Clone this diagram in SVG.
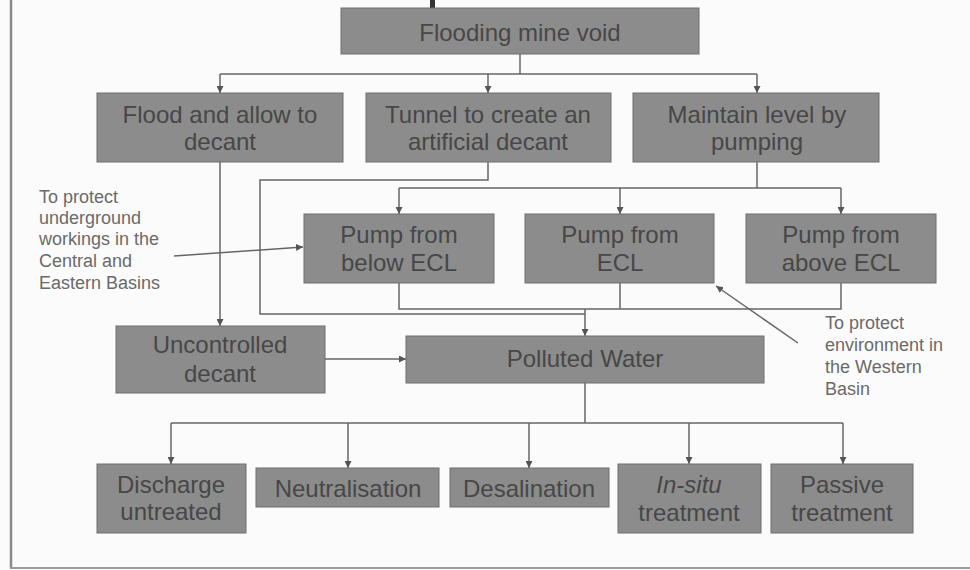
<svg xmlns="http://www.w3.org/2000/svg" width="970" height="570" viewBox="0 0 970 570">
<defs>
<marker id="ah" viewBox="0 0 10 10" refX="10" refY="5" markerWidth="7" markerHeight="7" markerUnits="userSpaceOnUse" orient="auto">
<path d="M0,0 L10,5 L0,10 z" fill="#555"/>
</marker>
</defs>
<style>
.box{fill:#8c8c8c;stroke:#6e6e6e;stroke-width:1}
.t{font-family:"Liberation Sans",Arial,sans-serif;font-size:24px;fill:#474747;text-anchor:middle}
.a{font-family:"Liberation Sans",Arial,sans-serif;font-size:18px;fill:#6a6a6a}
.c{fill:none;stroke:#666;stroke-width:1.5}
.ca{fill:none;stroke:#666;stroke-width:1.5;marker-end:url(#ah)}
</style>
<rect x="0" y="0" width="970" height="570" fill="#fbfbfb"/>
<g id="frame">
<line x1="11" y1="0" x2="11" y2="568" stroke="#8a8a8a" stroke-width="2.5"/>
<line x1="10" y1="568" x2="970" y2="568" stroke="#9a9a9a" stroke-width="2"/>
<rect x="430" y="0" width="5" height="8" fill="#333"/>
</g>
<g id="connectors">
<path class="c" d="M520,54 V74"/>
<path class="c" d="M220,74 H757"/>
<path class="ca" d="M220,74 V93"/>
<path class="ca" d="M488,74 V93"/>
<path class="ca" d="M757,74 V93"/>
<path class="ca" d="M220,162 V326"/>
<path class="c" d="M488,162 V180 H260 V314 H585"/>
<path class="c" d="M757,162 V188"/>
<path class="c" d="M399,188 H841"/>
<path class="ca" d="M399,188 V214"/>
<path class="ca" d="M620,188 V214"/>
<path class="ca" d="M841,188 V214"/>
<path class="c" d="M399,283 V309 H841 V283"/>
<path class="c" d="M620,283 V309"/>
<path class="ca" d="M585,309 V336"/>
<path class="ca" d="M325,359 H406"/>
<path class="c" d="M585,383 V423"/>
<path class="c" d="M171,423 H843"/>
<path class="ca" d="M171,423 V464"/>
<path class="ca" d="M348,423 V468"/>
<path class="ca" d="M529,423 V468"/>
<path class="ca" d="M689,423 V464"/>
<path class="ca" d="M843,423 V464"/>
<path class="ca" d="M174,256 L303,247"/>
<path class="ca" d="M798,343 L716,286"/>
</g>
<g id="n-flooding">
<rect class="box" x="341" y="8" width="358" height="46"/>
<text class="t" x="520" y="41">Flooding mine void</text>
</g>
<g id="n-flood">
<rect class="box" x="97" y="93" width="246" height="69"/>
<text class="t" x="220" y="123">Flood and allow to</text>
<text class="t" x="220" y="150">decant</text>
</g>
<g id="n-tunnel">
<rect class="box" x="366" y="93" width="245" height="69"/>
<text class="t" x="488" y="123">Tunnel to create an</text>
<text class="t" x="488" y="150">artificial decant</text>
</g>
<g id="n-maintain">
<rect class="box" x="633" y="93" width="246" height="69"/>
<text class="t" x="757" y="123">Maintain level by</text>
<text class="t" x="757" y="150">pumping</text>
</g>
<g id="n-below">
<rect class="box" x="304" y="214" width="190" height="69"/>
<text class="t" x="399" y="243">Pump from</text>
<text class="t" x="399" y="271">below ECL</text>
</g>
<g id="n-ecl">
<rect class="box" x="525" y="214" width="189" height="69"/>
<text class="t" x="620" y="243">Pump from</text>
<text class="t" x="620" y="271">ECL</text>
</g>
<g id="n-above">
<rect class="box" x="746" y="214" width="190" height="69"/>
<text class="t" x="841" y="243">Pump from</text>
<text class="t" x="841" y="271">above ECL</text>
</g>
<g id="n-uncontrolled">
<rect class="box" x="116" y="326" width="209" height="67"/>
<text class="t" x="220" y="353">Uncontrolled</text>
<text class="t" x="220" y="382">decant</text>
</g>
<g id="n-polluted">
<rect class="box" x="406" y="336" width="358" height="47"/>
<text class="t" x="585" y="367">Polluted Water</text>
</g>
<g id="n-discharge">
<rect class="box" x="97" y="464" width="149" height="69"/>
<text class="t" x="171" y="493">Discharge</text>
<text class="t" x="171" y="520">untreated</text>
</g>
<g id="n-neutral">
<rect class="box" x="256" y="468" width="183" height="39"/>
<text class="t" x="348" y="497">Neutralisation</text>
</g>
<g id="n-desal">
<rect class="box" x="450" y="468" width="159" height="39"/>
<text class="t" x="529" y="497">Desalination</text>
</g>
<g id="n-insitu">
<rect class="box" x="618" y="464" width="143" height="69"/>
<text class="t" x="689" y="493"><tspan font-style="italic">In-situ</tspan></text>
<text class="t" x="689" y="521">treatment</text>
</g>
<g id="n-passive">
<rect class="box" x="771" y="464" width="142" height="69"/>
<text class="t" x="842" y="493">Passive</text>
<text class="t" x="842" y="521">treatment</text>
</g>
<g id="note-left">
<text class="a" x="39" y="203">To protect</text>
<text class="a" x="39" y="224">underground</text>
<text class="a" x="39" y="245">workings in the</text>
<text class="a" x="39" y="267">Central and</text>
<text class="a" x="39" y="289">Eastern Basins</text>
</g>
<g id="note-right">
<text class="a" x="825" y="329">To protect</text>
<text class="a" x="825" y="351">environment in</text>
<text class="a" x="825" y="373">the Western</text>
<text class="a" x="825" y="395">Basin</text>
</g>
</svg>
